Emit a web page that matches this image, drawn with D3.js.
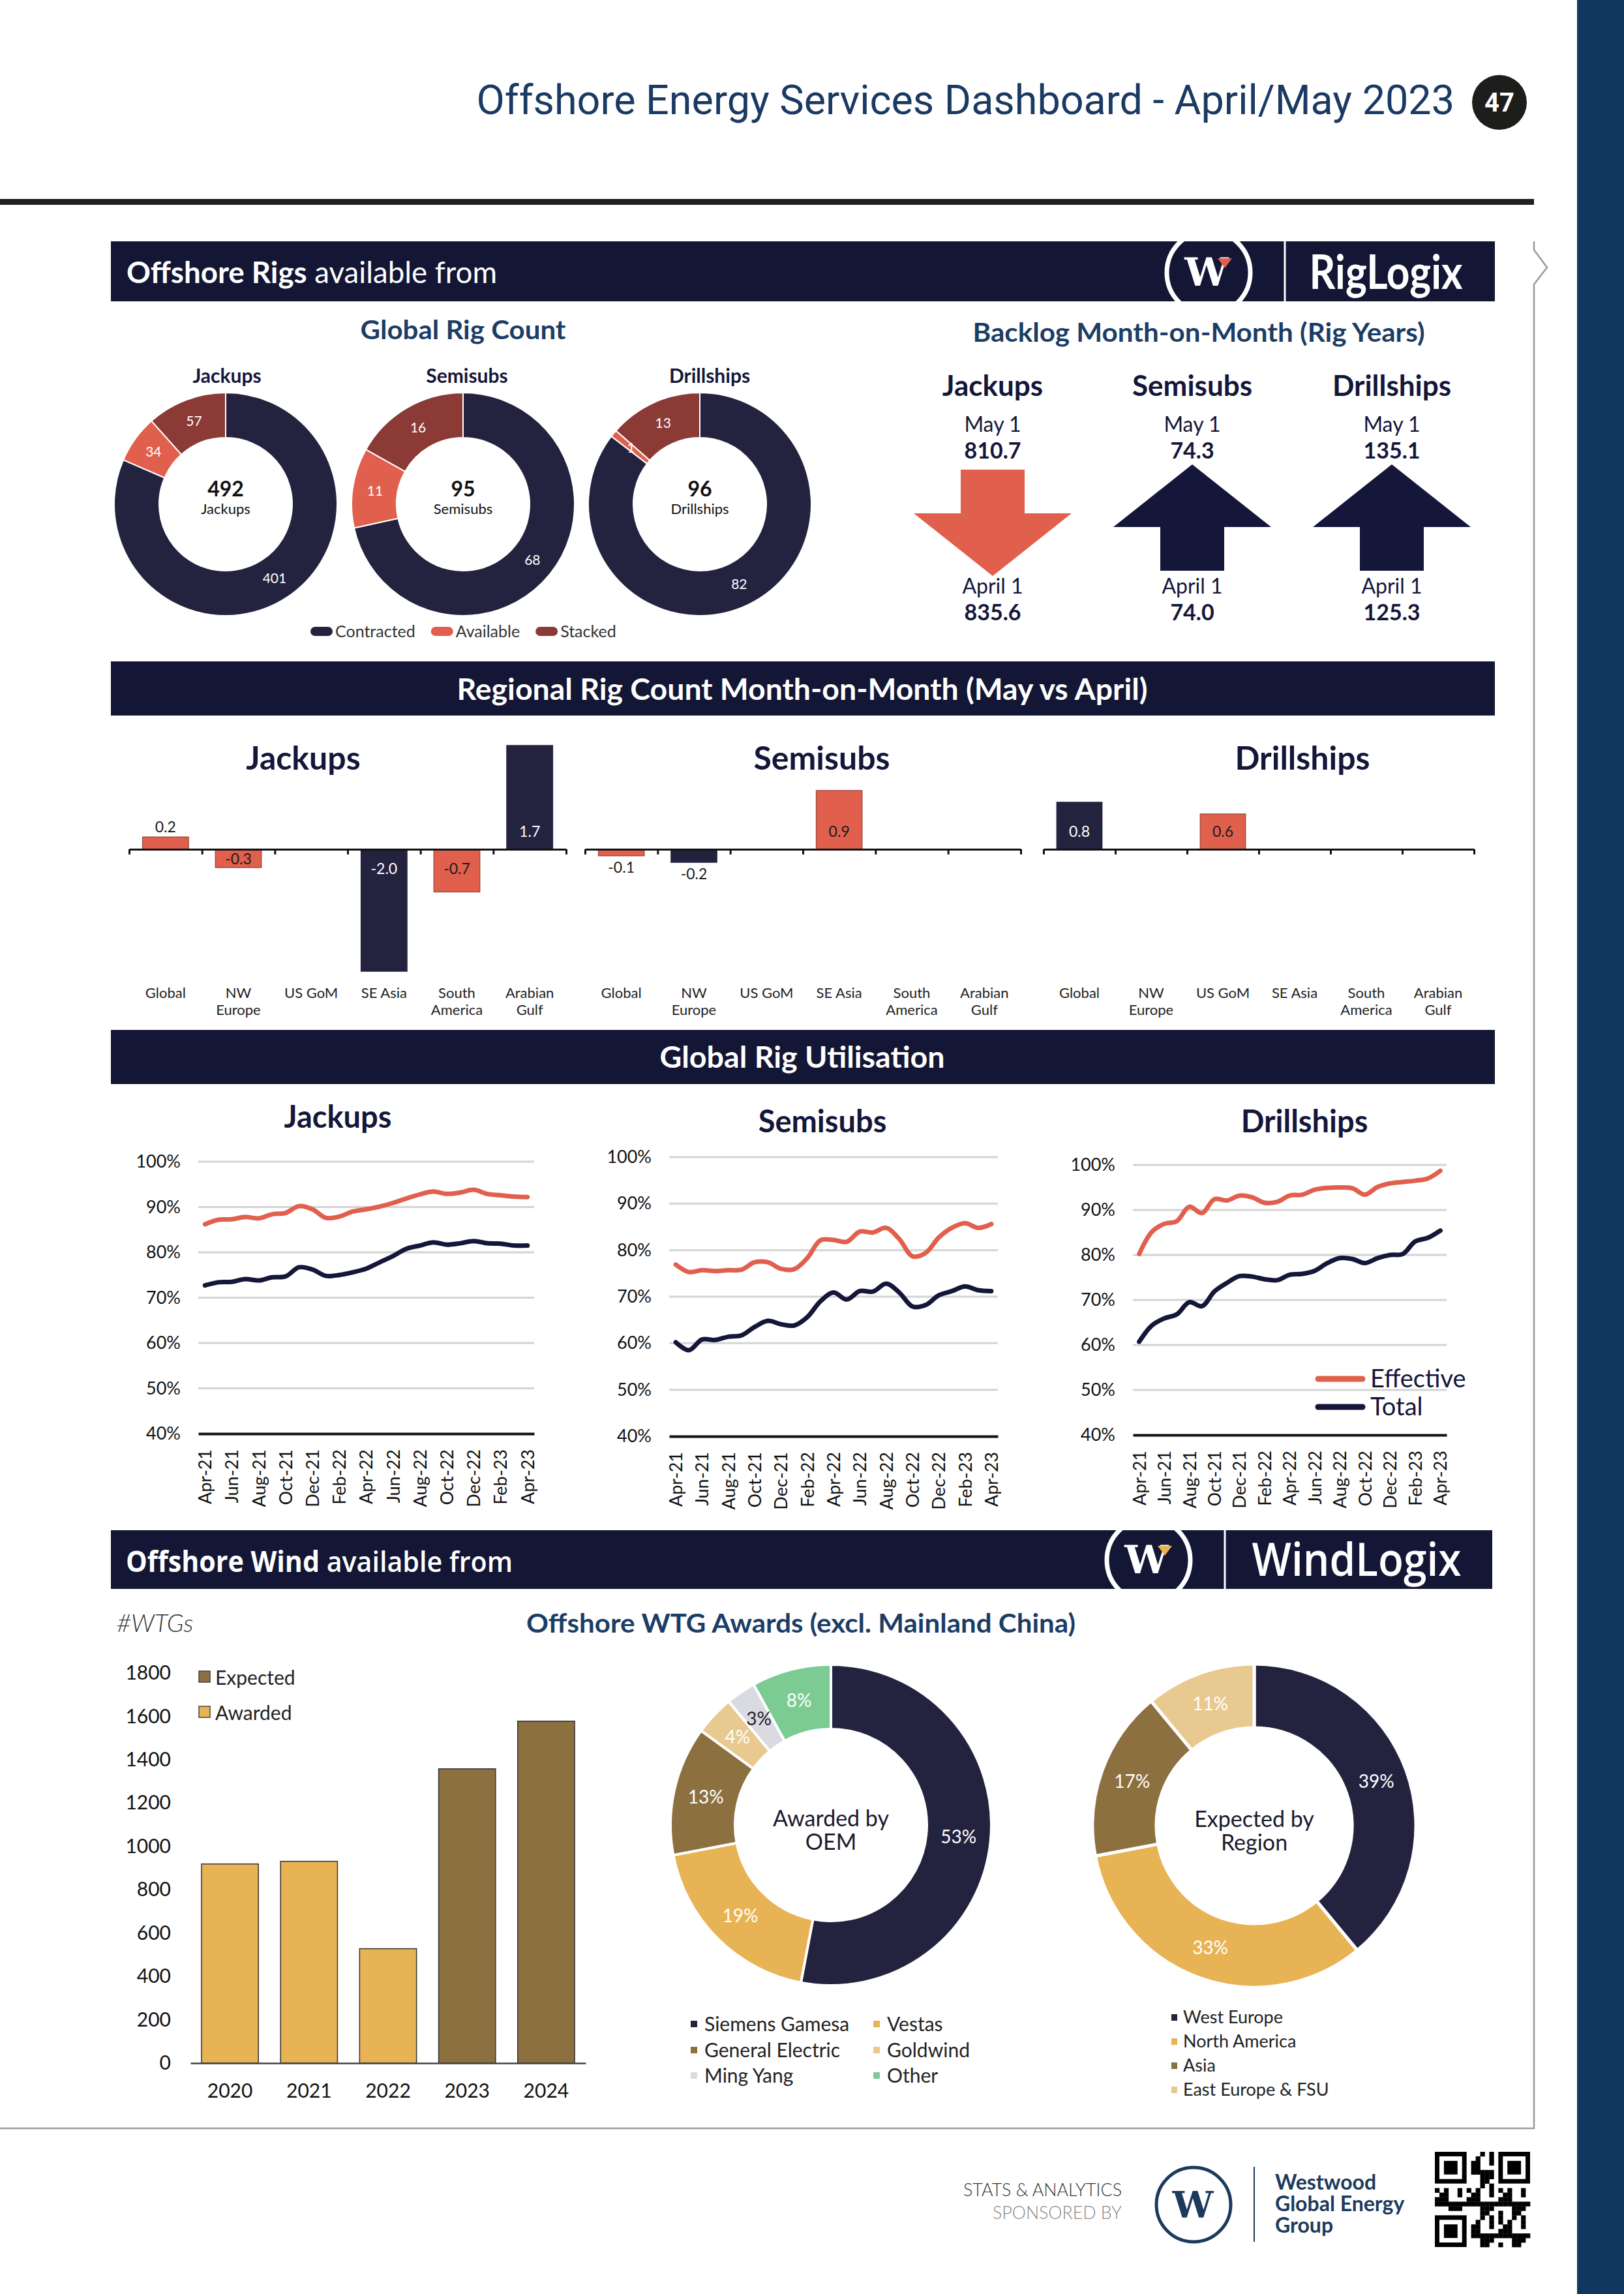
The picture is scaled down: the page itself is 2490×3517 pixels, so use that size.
<!DOCTYPE html>
<html>
<head>
<meta charset="utf-8">
<title>Offshore Energy Services Dashboard - April/May 2023</title>
<script src="https://cdn.jsdelivr.net/npm/d3@7"></script>
<style>
  body { margin: 0; background: #fff; }
  svg { display: block; font-family: Lato, "Open Sans", sans-serif; }
</style>
</head>
<body>
<svg width="2490" height="3517"></svg>
<script>
const svg = d3.select("svg");

// ---------- data ----------
const rigTypes = ["Jackups", "Semisubs", "Drillships"];
const rigStatus = ["Contracted", "Available", "Stacked"];
const jackupRigs = [401, 34, 57];
const semisubRigs = [68, 11, 16];
const drillshipRigs = [82, 1, 13];

const backlogMay = [810.7, 74.3, 135.1];
const backlogApril = [835.6, 74.0, 125.3];

const regions = ["Global", "NW Europe", "US GoM", "SE Asia", "South America", "Arabian Gulf"];
const regionTickLabels = [["Global"], ["NW", "Europe"], ["US GoM"], ["SE Asia"], ["South", "America"], ["Arabian", "Gulf"]];
const jackupChange = [0.2, -0.3, 0, -2.0, -0.7, 1.7];
const semisubChange = [-0.1, -0.2, 0, 0.9, 0, 0];
const drillshipChange = [0.8, 0, 0.6, 0, 0, 0];
// bars drawn in the coral tone
const jackupCoral = [true, true, false, false, true, false];
const semisubCoral = [true, false, false, true, false, false];
const drillshipCoral = [false, false, true, false, false, false];

const months = ["Apr-21", "May-21", "Jun-21", "Jul-21", "Aug-21", "Sep-21", "Oct-21", "Nov-21", "Dec-21",
  "Jan-22", "Feb-22", "Mar-22", "Apr-22", "May-22", "Jun-22", "Jul-22", "Aug-22", "Sep-22", "Oct-22",
  "Nov-22", "Dec-22", "Jan-23", "Feb-23", "Mar-23", "Apr-23"];
const monthTicks = ["Apr-21", "Jun-21", "Aug-21", "Oct-21", "Dec-21", "Feb-22", "Apr-22", "Jun-22",
  "Aug-22", "Oct-22", "Dec-22", "Feb-23", "Apr-23"];
const utilTicks = [40, 50, 60, 70, 80, 90, 100];
const jackupEffective = [86.2, 87.2, 87.3, 87.8, 87.5, 88.4, 88.7, 90.2, 89.5, 87.6, 87.9, 89.0, 89.5,
  90.1, 90.9, 91.9, 92.8, 93.4, 92.9, 93.2, 93.8, 92.9, 92.6, 92.3, 92.2];
const jackupTotal = [72.7, 73.4, 73.5, 74.1, 73.8, 74.5, 74.7, 76.7, 76.2, 74.8, 75.0, 75.6, 76.4,
  77.8, 79.2, 80.8, 81.5, 82.2, 81.7, 82.0, 82.5, 82.0, 81.9, 81.5, 81.5];
const semisubEffective = [76.9, 75.3, 75.7, 75.5, 75.7, 75.8, 77.4, 77.4, 76.0, 75.9, 78.3, 82.1, 82.2,
  81.8, 84.0, 83.8, 84.8, 82.4, 78.7, 79.4, 82.7, 84.8, 85.8, 84.8, 85.6];
const semisubTotal = [60.2, 58.5, 60.8, 60.7, 61.4, 61.7, 63.5, 64.8, 64.1, 63.8, 65.6, 69.0, 70.9,
  69.4, 71.2, 71.1, 72.8, 70.9, 67.9, 68.2, 70.3, 71.2, 72.2, 71.4, 71.2];
const drillshipEffective = [80.2, 85.1, 86.9, 87.5, 90.7, 89.3, 92.4, 92.1, 93.2, 92.8, 91.6, 91.8, 93.2,
  93.4, 94.5, 94.9, 95.0, 94.8, 93.4, 95.1, 95.9, 96.2, 96.5, 97.0, 98.7];
const drillshipTotal = [60.7, 64.3, 65.9, 66.8, 69.5, 68.6, 71.9, 73.8, 75.3, 75.2, 74.6, 74.4, 75.6,
  75.8, 76.5, 78.2, 79.3, 79.1, 78.2, 79.3, 80.0, 80.2, 83.0, 83.8, 85.4];

const wtgYears = ["2020", "2021", "2022", "2023", "2024"];
const wtgCounts = [919, 931, 528, 1358, 1578];
const wtgStatus = ["Awarded", "Awarded", "Awarded", "Expected", "Expected"];
const wtgTicks = [0, 200, 400, 600, 800, 1000, 1200, 1400, 1600, 1800];
const oemNames = ["Siemens Gamesa", "Vestas", "General Electric", "Goldwind", "Ming Yang", "Other"];
const oemShare = [53, 19, 13, 4, 3, 8];
const windRegions = ["West Europe", "North America", "Asia", "East Europe & FSU"];
const windRegionShare = [39, 33, 17, 11];

// ---------- styles ----------
const C = {
  navy: "#23233f", coral: "#e0604d", maroon: "#8b3a36", band: "#131634",
  ink: "#14163a", blue: "#1b3d66", gold: "#e8b354", brown: "#8c7040",
  tan: "#e8c98f", grey: "#dadae2", green: "#7ccb92"
};

function txt(g, x, y, s, size, o = {}) {
  const t = g.append("text")
    .attr("x", x).attr("y", y)
    .attr("font-size", size)
    .attr("font-weight", o.weight || 400)
    .attr("fill", o.fill || C.ink)
    .attr("text-anchor", o.anchor || "middle")
    .text(s);
  if (o.family) t.attr("font-family", o.family);
  if (o.style) t.attr("font-style", o.style);
  if (o.dy) t.attr("dy", o.dy);
  if (o.len) t.attr("textLength", o.len).attr("lengthAdjust", "spacingAndGlyphs");
  return t;
}

// shrink a text until its natural width fits
function fitWidth(t, width) {
  const w = t.node().getComputedTextLength();
  if (w > width) t.attr("font-size", +t.attr("font-size") * width / w);
  return t;
}

function band(y, h, w) {
  svg.append("rect").attr("x", 170).attr("y", y).attr("width", w).attr("height", h).attr("fill", C.band);
}

function logo(cx, cy, accent) {
  const g = svg.append("g");
  g.append("circle").attr("cx", cx).attr("cy", cy).attr("r", 64)
    .attr("fill", "none").attr("stroke", "#fff").attr("stroke-width", 7);
  txt(g, cx - 3, cy + 20, "W", 60, { weight: 700, fill: "#fff", family: "DejaVu Serif" });
  g.append("path").attr("d", `M${cx + 14},${cy - 22} h22 l-11,15 z`).attr("fill", accent);
}

// ---------- page chrome ----------
svg.append("rect").attr("x", 2418).attr("y", 0).attr("width", 72).attr("height", 3517).attr("fill", "#12375e");
fitWidth(txt(svg, 2230, 175, "Offshore Energy Services Dashboard - April/May 2023", 66,
  { anchor: "end", fill: "#1b3a63", family: "Roboto" }), 1500);
svg.append("circle").attr("cx", 2299).attr("cy", 157).attr("r", 42).attr("fill", "#1d1d1b");
txt(svg, 2299, 171, "47", 40, { weight: 700, fill: "#fff", family: "Roboto" });
svg.append("rect").attr("x", 0).attr("y", 305).attr("width", 2352).attr("height", 9).attr("fill", "#231f20");
svg.append("path").attr("d", "M2352,370 V383 L2372,410 L2352,436 V3263 H0")
  .attr("fill", "none").attr("stroke", "#9a9a9a").attr("stroke-width", 2.5);

// ---------- offshore rigs header ----------
band(370, 92, 2122);
const rh = svg.append("text").attr("x", 194).attr("y", 434).attr("font-size", 46).attr("fill", "#fff")
  .attr("textLength", 568).attr("lengthAdjust", "spacingAndGlyphs");
rh.append("tspan").attr("font-weight", 700).text("Offshore Rigs");
rh.append("tspan").text(" available from");
logo(1853, 418, C.coral);
svg.append("line").attr("x1", 1970).attr("x2", 1970).attr("y1", 370).attr("y2", 462).attr("stroke", "#fff").attr("stroke-width", 3);
txt(svg, 2125, 443, "RigLogix", 72, { fill: "#fff", weight: 700, len: 235 });

// ---------- global rig count donuts ----------
txt(svg, 710, 520, "Global Rig Count", 40, { weight: 700, fill: C.blue, len: 315 });
const rigCounts = [jackupRigs, semisubRigs, drillshipRigs];
const rigColor = d3.scaleOrdinal().domain(rigStatus).range([C.navy, C.coral, C.maroon]);
const rigCx = [346, 710, 1073];
const rigTitleX = [348, 716, 1088];
const rigCy = 773;
const rigPie = d3.pie().sort(null).value(d => d.v);
const rigArc = d3.arc().innerRadius(102).outerRadius(171);

rigTypes.forEach((type, i) => {
  txt(svg, rigTitleX[i], 587, type, 30, { weight: 700 });
  const g = svg.append("g").attr("transform", `translate(${rigCx[i]},${rigCy})`);
  const arcs = rigPie(rigStatus.map((s, j) => ({ s, v: rigCounts[i][j] })));
  g.selectAll("path").data(arcs).join("path")
    .attr("d", rigArc)
    .attr("fill", d => rigColor(d.data.s))
    .attr("stroke", "#fff").attr("stroke-width", 2);
  g.selectAll("text.lbl").data(arcs).join("text").attr("class", "lbl")
    .attr("transform", d => `translate(${rigArc.centroid(d)})`)
    .attr("text-anchor", "middle").attr("dy", "0.35em")
    .attr("font-size", 21).attr("fill", "#fff")
    .text(d => d.data.v);
  txt(g, 0, -12, d3.sum(rigCounts[i]), 32, { weight: 700, fill: "#111" });
  txt(g, 0, 15, type, 22, { fill: "#111" });
});

let lx = 476;
rigStatus.forEach(s => {
  svg.append("rect").attr("x", lx).attr("y", 961).attr("width", 34).attr("height", 14).attr("rx", 7).attr("fill", rigColor(s));
  const t = txt(svg, lx + 38, 977, s, 25, { anchor: "start", fill: "#333" });
  lx += 38 + t.node().getComputedTextLength() + 24;
});

// ---------- backlog ----------
txt(svg, 1838, 524, "Backlog Month-on-Month (Rig Years)", 40, { weight: 700, fill: C.blue, len: 693 });
const backX = [1522, 1828, 2134];
rigTypes.forEach((type, i) => {
  const cx = backX[i];
  txt(svg, cx, 607, type, 44, { weight: 700 });
  txt(svg, cx, 662, "May 1", 32);
  txt(svg, cx, 703, backlogMay[i].toFixed(1), 34, { weight: 700 });
  const up = backlogMay[i] >= backlogApril[i];
  const d = up
    ? `M${cx},712 L${cx + 121},808 H${cx + 49} V875 H${cx - 49} V808 H${cx - 121} Z`
    : `M${cx - 49},720 H${cx + 49} V787 H${cx + 121} L${cx},883 L${cx - 121},787 H${cx - 49} Z`;
  svg.append("path").attr("d", d).attr("fill", up ? C.ink : C.coral);
  txt(svg, cx, 910, "April 1", 32);
  txt(svg, cx, 951, backlogApril[i].toFixed(1), 34, { weight: 700 });
});

// ---------- regional rig count ----------
band(1014, 83, 2122);
txt(svg, 1230, 1073, "Regional Rig Count Month-on-Month (May vs April)", 46, { weight: 700, fill: "#fff", len: 1059 });

function regionalPanel(p) {
  const g = svg.append("g");
  txt(g, p.titleX, 1180, p.title, 50, { weight: 700 });
  const x = d3.scaleBand().domain(regions).range(p.range).paddingInner(0.37).paddingOuter(0.185);
  const y = d3.scaleLinear().domain(p.domain).range(p.yRange);
  const y0 = y(0);
  const data = regions.map((r, i) => ({ r, v: p.values[i], coral: p.coral[i] })).filter(d => d.v !== 0);

  g.selectAll("rect").data(data).join("rect")
    .attr("x", d => x(d.r)).attr("width", x.bandwidth())
    .attr("y", d => Math.min(y(d.v), y0))
    .attr("height", d => Math.abs(y(d.v) - y0))
    .attr("fill", d => d.coral ? C.coral : C.navy)
    .attr("stroke", d => d.coral ? "#a54c3f" : C.navy).attr("stroke-width", 1.5);

  const edge = d3.scaleLinear().domain([0, regions.length]).range(p.range);
  g.append("g").attr("transform", `translate(0,${y0})`)
    .call(d3.axisBottom(edge).ticks(regions.length).tickSize(8).tickSizeOuter(0).tickFormat(""))
    .call(a => a.selectAll("line,path").attr("stroke", "#111").attr("stroke-width", 3));

  regions.forEach((r, i) => {
    regionTickLabels[i].forEach((line, k) => {
      txt(g, x(r) + x.bandwidth() / 2, 1530 + k * 26, line, 22, { fill: "#222" });
    });
  });

  data.forEach(d => {
    const yv = y(d.v), h = Math.abs(yv - y0);
    let ly, inside;
    if (d.v > 0) { inside = h >= 30; ly = inside ? y0 - 19 : yv - 7; }
    else { inside = h >= 26; ly = inside ? y0 + Math.min(38, h / 2 + 9) : yv + 26; }
    txt(g, x(d.r) + x.bandwidth() / 2, ly, d.v.toFixed(1), 23,
      { fill: inside && !d.coral ? "#fff" : "#1a1a1a" });
  });
}

regionalPanel({ title: "Jackups", titleX: 465, values: jackupChange, coral: jackupCoral,
  range: [198, 868], domain: [-2.0, 1.7], yRange: [1489, 1143] });
regionalPanel({ title: "Semisubs", titleX: 1260, values: semisubChange, coral: semisubCoral,
  range: [897, 1565], domain: [-1, 1], yRange: [1402, 1202] });
regionalPanel({ title: "Drillships", titleX: 1997, values: drillshipChange, coral: drillshipCoral,
  range: [1600, 2260], domain: [-1, 1], yRange: [1392, 1212] });

// ---------- global rig utilisation ----------
band(1579, 83, 2122);
txt(svg, 1230, 1637, "Global Rig Utilisation", 46, { weight: 700, fill: "#fff", len: 437 });

function utilPanel(p) {
  const g = svg.append("g");
  txt(g, p.titleX, p.titleY, p.title, 47, { weight: 700 });
  const x = d3.scalePoint().domain(months).range([p.x0, p.x1]).padding(0.5);
  const y = d3.scaleLinear().domain([40, 100]).range([p.yBottom, p.yTop]);

  g.selectAll("line.grid").data(utilTicks.slice(1)).join("line").attr("class", "grid")
    .attr("x1", p.x0).attr("x2", p.x1)
    .attr("y1", d => y(d)).attr("y2", d => y(d))
    .attr("stroke", "#d4d4d4").attr("stroke-width", 3);

  const ya = g.append("g").attr("transform", `translate(${p.x0},0)`)
    .call(d3.axisLeft(y).tickValues(utilTicks).tickFormat(d => d + "%").tickSize(0).tickPadding(27));
  ya.select(".domain").remove();
  ya.selectAll("text").attr("font-size", 27).attr("fill", "#111").attr("font-family", "Lato");

  const xa = g.append("g").attr("transform", `translate(0,${p.yBottom})`)
    .call(d3.axisBottom(x).tickValues(monthTicks).tickSize(0));
  xa.select(".domain").attr("stroke", "#111").attr("stroke-width", 4);
  xa.selectAll("text")
    .attr("x", -24).attr("y", 0).attr("dy", "0.35em")
    .attr("transform", "rotate(-90)")
    .attr("text-anchor", "end")
    .attr("font-size", 27).attr("fill", "#111").attr("font-family", "Lato");

  const line = d3.line().x((d, i) => x(months[i])).y(d => y(d)).curve(d3.curveCatmullRom.alpha(0.5));
  g.append("path").datum(p.tot).attr("d", line)
    .attr("fill", "none").attr("stroke", C.ink).attr("stroke-width", 7).attr("stroke-linecap", "round");
  g.append("path").datum(p.eff).attr("d", line)
    .attr("fill", "none").attr("stroke", C.coral).attr("stroke-width", 7).attr("stroke-linecap", "round");
}

utilPanel({ title: "Jackups", eff: jackupEffective, tot: jackupTotal,
  x0: 304, x1: 819, yTop: 1781, yBottom: 2198, titleX: 518, titleY: 1729 });
utilPanel({ title: "Semisubs", eff: semisubEffective, tot: semisubTotal,
  x0: 1026, x1: 1530, yTop: 1774, yBottom: 2202, titleX: 1261, titleY: 1736 });
utilPanel({ title: "Drillships", eff: drillshipEffective, tot: drillshipTotal,
  x0: 1737, x1: 2218, yTop: 1786, yBottom: 2200, titleX: 2000, titleY: 1736 });

[["Effective", C.coral, 2114], ["Total", C.ink, 2157]].forEach(([name, col, ly]) => {
  svg.append("line").attr("x1", 2021).attr("x2", 2089).attr("y1", ly).attr("y2", ly)
    .attr("stroke", col).attr("stroke-width", 9).attr("stroke-linecap", "round");
  txt(svg, 2101, ly + 13, name, 38, { anchor: "start", fill: C.ink });
});

// ---------- offshore wind header ----------
band(2346, 90, 2118);
const wh = svg.append("text").attr("x", 193).attr("y", 2410).attr("font-size", 44).attr("fill", "#fff")
  .attr("font-family", "'Open Sans', Lato, sans-serif")
  .attr("textLength", 593).attr("lengthAdjust", "spacingAndGlyphs");
wh.append("tspan").attr("font-weight", 700).text("Offshore Wind");
wh.append("tspan").attr("font-weight", 600).text(" available from");
logo(1761, 2392, C.gold);
svg.append("line").attr("x1", 1878).attr("x2", 1878).attr("y1", 2346).attr("y2", 2436).attr("stroke", "#fff").attr("stroke-width", 3);
txt(svg, 2080, 2416, "WindLogix", 70, { fill: "#fff", weight: 600, family: "'Open Sans', Lato, sans-serif", len: 321 });

txt(svg, 179, 2502, "#WTGs", 38, { anchor: "start", style: "italic", weight: 300, fill: "#333" });
txt(svg, 1228, 2503, "Offshore WTG Awards (excl. Mainland China)", 40, { weight: 700, fill: C.blue, len: 842 });

// ---------- WTG bars ----------
const xw = d3.scaleBand().domain(wtgYears).range([292, 898]).paddingInner(0.28).paddingOuter(0.14);
const yw = d3.scaleLinear().domain([0, 1800]).range([3163, 2565]);
const wtgColor = d3.scaleOrdinal().domain(["Expected", "Awarded"]).range([C.brown, C.gold]);

svg.append("g").selectAll("rect").data(wtgYears).join("rect")
  .attr("x", d => xw(d)).attr("width", xw.bandwidth())
  .attr("y", (d, i) => yw(wtgCounts[i]))
  .attr("height", (d, i) => yw(0) - yw(wtgCounts[i]))
  .attr("fill", (d, i) => wtgColor(wtgStatus[i]))
  .attr("stroke", "#333").attr("stroke-width", 1.5);

const wya = svg.append("g").attr("transform", "translate(292,0)")
  .call(d3.axisLeft(yw).tickValues(wtgTicks).tickFormat(d3.format("d")).tickSize(0).tickPadding(30));
wya.select(".domain").remove();
wya.selectAll("text").attr("font-size", 30).attr("fill", "#111").attr("font-family", "Lato");

const wxa = svg.append("g").attr("transform", `translate(0,${yw(0)})`)
  .call(d3.axisBottom(xw).tickSize(0).tickPadding(32).tickSizeOuter(0));
wxa.select(".domain").attr("stroke", "#444").attr("stroke-width", 2.5);
wxa.selectAll("text").attr("font-size", 30).attr("fill", "#111").attr("font-family", "Lato");

["Expected", "Awarded"].forEach((s, i) => {
  svg.append("rect").attr("x", 305).attr("y", 2562 + i * 54).attr("width", 17).attr("height", 17)
    .attr("fill", wtgColor(s)).attr("stroke", "#444").attr("stroke-width", 1.5);
  txt(svg, 330, 2583 + i * 54, s, 30, { anchor: "start", fill: "#222" });
});

// ---------- WTG donuts ----------
function windDonut(p) {
  const g = svg.append("g").attr("transform", `translate(${p.cx},${p.cy})`);
  const arc = d3.arc().innerRadius(p.rI).outerRadius(p.rO);
  const arcs = d3.pie().sort(null).value(d => d.v)(p.names.map((n, i) => ({ n, v: p.shares[i], c: p.colors[i] })));
  g.selectAll("path").data(arcs).join("path")
    .attr("d", arc).attr("fill", d => d.data.c)
    .attr("stroke", "#fff").attr("stroke-width", p.sep);
  g.selectAll("text.lbl").data(arcs).join("text").attr("class", "lbl")
    .attr("transform", d => `translate(${arc.centroid(d)})`)
    .attr("text-anchor", "middle").attr("dy", "0.35em")
    .attr("font-size", 28)
    .attr("fill", d => d3.hsl(d.data.c).l > 0.8 ? "#222" : "#fff")
    .text(d => d.data.v + "%");
  p.center.forEach((s, k) => txt(g, 0, 2 + k * 36, s, 34, { fill: "#1a1a2e" }));
}

const oemColors = [C.navy, C.gold, C.brown, C.tan, C.grey, C.green];
const regionColors = [C.navy, C.gold, C.brown, C.tan];
windDonut({ cx: 1274, cy: 2798, rO: 246, rI: 147, names: oemNames, shares: oemShare,
  colors: oemColors, sep: 4, center: ["Awarded by", "OEM"] });
windDonut({ cx: 1923, cy: 2799, rO: 248, rI: 150, names: windRegions, shares: windRegionShare,
  colors: regionColors, sep: 5, center: ["Expected by", "Region"] });

const oemColX = [1059, 1339], oemRowY = [3103, 3143, 3182];
oemNames.forEach((n, i) => {
  const mx = oemColX[i % 2], my = oemRowY[Math.floor(i / 2)];
  svg.append("rect").attr("x", mx).attr("y", my - 5).attr("width", 10).attr("height", 10).attr("fill", oemColors[i]);
  txt(svg, mx + 21, my, n, 30, { anchor: "start", fill: "#222", dy: "0.35em" });
});
windRegions.forEach((n, i) => {
  const my = 3093 + i * 37;
  svg.append("rect").attr("x", 1796).attr("y", my - 5).attr("width", 9).attr("height", 10).attr("fill", regionColors[i]);
  txt(svg, 1814, my, n, 27, { anchor: "start", fill: "#222", dy: "0.35em" });
});

// ---------- footer ----------
txt(svg, 1720, 3367, "STATS & ANALYTICS", 28, { anchor: "end", fill: "#333", weight: 300, len: 243 });
txt(svg, 1720, 3402, "SPONSORED BY", 28, { anchor: "end", fill: "#888", weight: 300, len: 198 });
svg.append("circle").attr("cx", 1830).attr("cy", 3380).attr("r", 57)
  .attr("fill", "none").attr("stroke", "#1b3a5c").attr("stroke-width", 5);
txt(svg, 1829, 3400, "W", 56, { weight: 700, fill: "#1b3a5c", family: "DejaVu Serif" });
svg.append("line").attr("x1", 1923).attr("x2", 1923).attr("y1", 3322).attr("y2", 3437)
  .attr("stroke", "#1b3a5c").attr("stroke-width", 2);
["Westwood", "Global Energy", "Group"].forEach((s, i) => {
  txt(svg, 1955, 3357 + i * 33, s, 32, { anchor: "start", weight: 700, fill: "#1b3a5c" });
});

const qr = svg.append("g").attr("transform", "translate(2200,3299)");
const qn = 21, qm = 146 / qn;
function finder(i, j) {
  qr.append("rect").attr("x", j * qm).attr("y", i * qm).attr("width", 7 * qm).attr("height", 7 * qm).attr("fill", "#000");
  qr.append("rect").attr("x", (j + 1) * qm).attr("y", (i + 1) * qm).attr("width", 5 * qm).attr("height", 5 * qm).attr("fill", "#fff");
  qr.append("rect").attr("x", (j + 2) * qm).attr("y", (i + 2) * qm).attr("width", 3 * qm).attr("height", 3 * qm).attr("fill", "#000");
}
for (let i = 0; i < qn; i++) {
  for (let j = 0; j < qn; j++) {
    const inFinder = (i < 8 && j < 8) || (i < 8 && j > qn - 9) || (i > qn - 9 && j < 8);
    if (inFinder) continue;
    if ((i * i + 3 * j + i * j) % 7 < 3) {
      qr.append("rect").attr("x", j * qm).attr("y", i * qm).attr("width", qm + 0.3).attr("height", qm + 0.3).attr("fill", "#000");
    }
  }
}
finder(0, 0); finder(0, qn - 7); finder(qn - 7, 0);
</script>
</body>
</html>
